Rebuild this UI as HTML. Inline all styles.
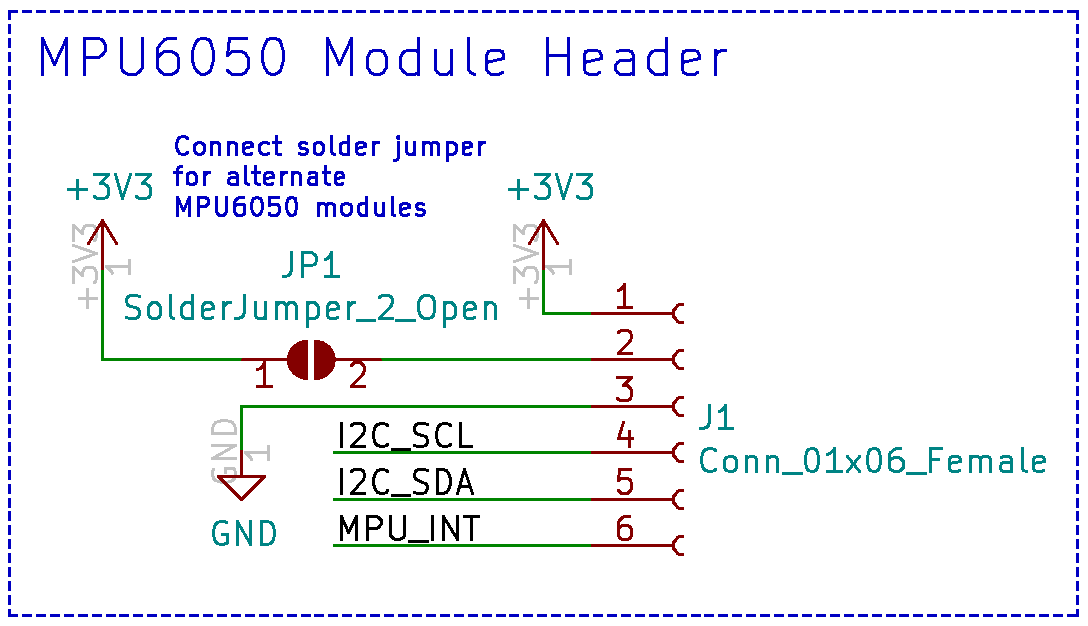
<!DOCTYPE html>
<html><head><meta charset="utf-8"><title>MPU6050 Module Header</title>
<style>html,body{margin:0;padding:0;background:#fff;width:1088px;height:626px;overflow:hidden;font-family:"Liberation Sans",sans-serif}svg{display:block}</style>
</head><body>
<svg width="1088" height="626" viewBox="0 0 1088 626" shape-rendering="crispEdges"><g fill="#0000c2"><rect x="8.00" y="10.00" width="10.00" height="3.00"/><rect x="8.00" y="614.00" width="10.00" height="3.00"/><rect x="22.00" y="10.00" width="10.00" height="3.00"/><rect x="22.00" y="614.00" width="10.00" height="3.00"/><rect x="36.00" y="10.00" width="10.00" height="3.00"/><rect x="36.00" y="614.00" width="10.00" height="3.00"/><rect x="50.00" y="10.00" width="10.00" height="3.00"/><rect x="50.00" y="614.00" width="10.00" height="3.00"/><rect x="64.00" y="10.00" width="10.00" height="3.00"/><rect x="64.00" y="614.00" width="10.00" height="3.00"/><rect x="78.00" y="10.00" width="10.00" height="3.00"/><rect x="78.00" y="614.00" width="10.00" height="3.00"/><rect x="92.00" y="10.00" width="10.00" height="3.00"/><rect x="92.00" y="614.00" width="10.00" height="3.00"/><rect x="106.00" y="10.00" width="10.00" height="3.00"/><rect x="106.00" y="614.00" width="10.00" height="3.00"/><rect x="119.00" y="10.00" width="10.00" height="3.00"/><rect x="119.00" y="614.00" width="10.00" height="3.00"/><rect x="133.00" y="10.00" width="10.00" height="3.00"/><rect x="133.00" y="614.00" width="10.00" height="3.00"/><rect x="147.00" y="10.00" width="10.00" height="3.00"/><rect x="147.00" y="614.00" width="10.00" height="3.00"/><rect x="161.00" y="10.00" width="10.00" height="3.00"/><rect x="161.00" y="614.00" width="10.00" height="3.00"/><rect x="175.00" y="10.00" width="10.00" height="3.00"/><rect x="175.00" y="614.00" width="10.00" height="3.00"/><rect x="189.00" y="10.00" width="10.00" height="3.00"/><rect x="189.00" y="614.00" width="10.00" height="3.00"/><rect x="203.00" y="10.00" width="10.00" height="3.00"/><rect x="203.00" y="614.00" width="10.00" height="3.00"/><rect x="217.00" y="10.00" width="10.00" height="3.00"/><rect x="217.00" y="614.00" width="10.00" height="3.00"/><rect x="231.00" y="10.00" width="10.00" height="3.00"/><rect x="231.00" y="614.00" width="10.00" height="3.00"/><rect x="245.00" y="10.00" width="10.00" height="3.00"/><rect x="245.00" y="614.00" width="10.00" height="3.00"/><rect x="259.00" y="10.00" width="10.00" height="3.00"/><rect x="259.00" y="614.00" width="10.00" height="3.00"/><rect x="273.00" y="10.00" width="10.00" height="3.00"/><rect x="273.00" y="614.00" width="10.00" height="3.00"/><rect x="287.00" y="10.00" width="10.00" height="3.00"/><rect x="287.00" y="614.00" width="10.00" height="3.00"/><rect x="301.00" y="10.00" width="10.00" height="3.00"/><rect x="301.00" y="614.00" width="10.00" height="3.00"/><rect x="314.00" y="10.00" width="10.00" height="3.00"/><rect x="314.00" y="614.00" width="10.00" height="3.00"/><rect x="328.00" y="10.00" width="10.00" height="3.00"/><rect x="328.00" y="614.00" width="10.00" height="3.00"/><rect x="342.00" y="10.00" width="10.00" height="3.00"/><rect x="342.00" y="614.00" width="10.00" height="3.00"/><rect x="356.00" y="10.00" width="10.00" height="3.00"/><rect x="356.00" y="614.00" width="10.00" height="3.00"/><rect x="370.00" y="10.00" width="10.00" height="3.00"/><rect x="370.00" y="614.00" width="10.00" height="3.00"/><rect x="384.00" y="10.00" width="10.00" height="3.00"/><rect x="384.00" y="614.00" width="10.00" height="3.00"/><rect x="398.00" y="10.00" width="10.00" height="3.00"/><rect x="398.00" y="614.00" width="10.00" height="3.00"/><rect x="412.00" y="10.00" width="10.00" height="3.00"/><rect x="412.00" y="614.00" width="10.00" height="3.00"/><rect x="426.00" y="10.00" width="10.00" height="3.00"/><rect x="426.00" y="614.00" width="10.00" height="3.00"/><rect x="440.00" y="10.00" width="10.00" height="3.00"/><rect x="440.00" y="614.00" width="10.00" height="3.00"/><rect x="454.00" y="10.00" width="10.00" height="3.00"/><rect x="454.00" y="614.00" width="10.00" height="3.00"/><rect x="468.00" y="10.00" width="10.00" height="3.00"/><rect x="468.00" y="614.00" width="10.00" height="3.00"/><rect x="482.00" y="10.00" width="10.00" height="3.00"/><rect x="482.00" y="614.00" width="10.00" height="3.00"/><rect x="496.00" y="10.00" width="10.00" height="3.00"/><rect x="496.00" y="614.00" width="10.00" height="3.00"/><rect x="509.00" y="10.00" width="10.00" height="3.00"/><rect x="509.00" y="614.00" width="10.00" height="3.00"/><rect x="523.00" y="10.00" width="10.00" height="3.00"/><rect x="523.00" y="614.00" width="10.00" height="3.00"/><rect x="537.00" y="10.00" width="10.00" height="3.00"/><rect x="537.00" y="614.00" width="10.00" height="3.00"/><rect x="551.00" y="10.00" width="10.00" height="3.00"/><rect x="551.00" y="614.00" width="10.00" height="3.00"/><rect x="565.00" y="10.00" width="10.00" height="3.00"/><rect x="565.00" y="614.00" width="10.00" height="3.00"/><rect x="579.00" y="10.00" width="10.00" height="3.00"/><rect x="579.00" y="614.00" width="10.00" height="3.00"/><rect x="593.00" y="10.00" width="10.00" height="3.00"/><rect x="593.00" y="614.00" width="10.00" height="3.00"/><rect x="607.00" y="10.00" width="10.00" height="3.00"/><rect x="607.00" y="614.00" width="10.00" height="3.00"/><rect x="621.00" y="10.00" width="10.00" height="3.00"/><rect x="621.00" y="614.00" width="10.00" height="3.00"/><rect x="635.00" y="10.00" width="10.00" height="3.00"/><rect x="635.00" y="614.00" width="10.00" height="3.00"/><rect x="649.00" y="10.00" width="10.00" height="3.00"/><rect x="649.00" y="614.00" width="10.00" height="3.00"/><rect x="663.00" y="10.00" width="10.00" height="3.00"/><rect x="663.00" y="614.00" width="10.00" height="3.00"/><rect x="677.00" y="10.00" width="10.00" height="3.00"/><rect x="677.00" y="614.00" width="10.00" height="3.00"/><rect x="691.00" y="10.00" width="10.00" height="3.00"/><rect x="691.00" y="614.00" width="10.00" height="3.00"/><rect x="704.00" y="10.00" width="10.00" height="3.00"/><rect x="704.00" y="614.00" width="10.00" height="3.00"/><rect x="718.00" y="10.00" width="10.00" height="3.00"/><rect x="718.00" y="614.00" width="10.00" height="3.00"/><rect x="732.00" y="10.00" width="10.00" height="3.00"/><rect x="732.00" y="614.00" width="10.00" height="3.00"/><rect x="746.00" y="10.00" width="10.00" height="3.00"/><rect x="746.00" y="614.00" width="10.00" height="3.00"/><rect x="760.00" y="10.00" width="10.00" height="3.00"/><rect x="760.00" y="614.00" width="10.00" height="3.00"/><rect x="774.00" y="10.00" width="10.00" height="3.00"/><rect x="774.00" y="614.00" width="10.00" height="3.00"/><rect x="788.00" y="10.00" width="10.00" height="3.00"/><rect x="788.00" y="614.00" width="10.00" height="3.00"/><rect x="802.00" y="10.00" width="10.00" height="3.00"/><rect x="802.00" y="614.00" width="10.00" height="3.00"/><rect x="816.00" y="10.00" width="10.00" height="3.00"/><rect x="816.00" y="614.00" width="10.00" height="3.00"/><rect x="830.00" y="10.00" width="10.00" height="3.00"/><rect x="830.00" y="614.00" width="10.00" height="3.00"/><rect x="844.00" y="10.00" width="10.00" height="3.00"/><rect x="844.00" y="614.00" width="10.00" height="3.00"/><rect x="858.00" y="10.00" width="10.00" height="3.00"/><rect x="858.00" y="614.00" width="10.00" height="3.00"/><rect x="872.00" y="10.00" width="10.00" height="3.00"/><rect x="872.00" y="614.00" width="10.00" height="3.00"/><rect x="886.00" y="10.00" width="10.00" height="3.00"/><rect x="886.00" y="614.00" width="10.00" height="3.00"/><rect x="899.00" y="10.00" width="10.00" height="3.00"/><rect x="899.00" y="614.00" width="10.00" height="3.00"/><rect x="913.00" y="10.00" width="10.00" height="3.00"/><rect x="913.00" y="614.00" width="10.00" height="3.00"/><rect x="927.00" y="10.00" width="10.00" height="3.00"/><rect x="927.00" y="614.00" width="10.00" height="3.00"/><rect x="941.00" y="10.00" width="10.00" height="3.00"/><rect x="941.00" y="614.00" width="10.00" height="3.00"/><rect x="955.00" y="10.00" width="10.00" height="3.00"/><rect x="955.00" y="614.00" width="10.00" height="3.00"/><rect x="969.00" y="10.00" width="10.00" height="3.00"/><rect x="969.00" y="614.00" width="10.00" height="3.00"/><rect x="983.00" y="10.00" width="10.00" height="3.00"/><rect x="983.00" y="614.00" width="10.00" height="3.00"/><rect x="997.00" y="10.00" width="10.00" height="3.00"/><rect x="997.00" y="614.00" width="10.00" height="3.00"/><rect x="1011.00" y="10.00" width="10.00" height="3.00"/><rect x="1011.00" y="614.00" width="10.00" height="3.00"/><rect x="1025.00" y="10.00" width="10.00" height="3.00"/><rect x="1025.00" y="614.00" width="10.00" height="3.00"/><rect x="1039.00" y="10.00" width="10.00" height="3.00"/><rect x="1039.00" y="614.00" width="10.00" height="3.00"/><rect x="1053.00" y="10.00" width="10.00" height="3.00"/><rect x="1053.00" y="614.00" width="10.00" height="3.00"/><rect x="1067.00" y="10.00" width="10.00" height="3.00"/><rect x="1067.00" y="614.00" width="10.00" height="3.00"/><rect x="8.00" y="10.00" width="3.00" height="10.00"/><rect x="1076.00" y="10.00" width="3.00" height="10.00"/><rect x="8.00" y="24.00" width="3.00" height="10.00"/><rect x="1076.00" y="24.00" width="3.00" height="10.00"/><rect x="8.00" y="38.00" width="3.00" height="10.00"/><rect x="1076.00" y="38.00" width="3.00" height="10.00"/><rect x="8.00" y="52.00" width="3.00" height="10.00"/><rect x="1076.00" y="52.00" width="3.00" height="10.00"/><rect x="8.00" y="66.00" width="3.00" height="10.00"/><rect x="1076.00" y="66.00" width="3.00" height="10.00"/><rect x="8.00" y="80.00" width="3.00" height="10.00"/><rect x="1076.00" y="80.00" width="3.00" height="10.00"/><rect x="8.00" y="94.00" width="3.00" height="10.00"/><rect x="1076.00" y="94.00" width="3.00" height="10.00"/><rect x="8.00" y="108.00" width="3.00" height="10.00"/><rect x="1076.00" y="108.00" width="3.00" height="10.00"/><rect x="8.00" y="121.00" width="3.00" height="10.00"/><rect x="1076.00" y="121.00" width="3.00" height="10.00"/><rect x="8.00" y="135.00" width="3.00" height="10.00"/><rect x="1076.00" y="135.00" width="3.00" height="10.00"/><rect x="8.00" y="149.00" width="3.00" height="10.00"/><rect x="1076.00" y="149.00" width="3.00" height="10.00"/><rect x="8.00" y="163.00" width="3.00" height="10.00"/><rect x="1076.00" y="163.00" width="3.00" height="10.00"/><rect x="8.00" y="177.00" width="3.00" height="10.00"/><rect x="1076.00" y="177.00" width="3.00" height="10.00"/><rect x="8.00" y="191.00" width="3.00" height="10.00"/><rect x="1076.00" y="191.00" width="3.00" height="10.00"/><rect x="8.00" y="205.00" width="3.00" height="10.00"/><rect x="1076.00" y="205.00" width="3.00" height="10.00"/><rect x="8.00" y="219.00" width="3.00" height="10.00"/><rect x="1076.00" y="219.00" width="3.00" height="10.00"/><rect x="8.00" y="233.00" width="3.00" height="10.00"/><rect x="1076.00" y="233.00" width="3.00" height="10.00"/><rect x="8.00" y="247.00" width="3.00" height="10.00"/><rect x="1076.00" y="247.00" width="3.00" height="10.00"/><rect x="8.00" y="261.00" width="3.00" height="10.00"/><rect x="1076.00" y="261.00" width="3.00" height="10.00"/><rect x="8.00" y="275.00" width="3.00" height="10.00"/><rect x="1076.00" y="275.00" width="3.00" height="10.00"/><rect x="8.00" y="289.00" width="3.00" height="10.00"/><rect x="1076.00" y="289.00" width="3.00" height="10.00"/><rect x="8.00" y="303.00" width="3.00" height="10.00"/><rect x="1076.00" y="303.00" width="3.00" height="10.00"/><rect x="8.00" y="316.00" width="3.00" height="10.00"/><rect x="1076.00" y="316.00" width="3.00" height="10.00"/><rect x="8.00" y="330.00" width="3.00" height="10.00"/><rect x="1076.00" y="330.00" width="3.00" height="10.00"/><rect x="8.00" y="344.00" width="3.00" height="10.00"/><rect x="1076.00" y="344.00" width="3.00" height="10.00"/><rect x="8.00" y="358.00" width="3.00" height="10.00"/><rect x="1076.00" y="358.00" width="3.00" height="10.00"/><rect x="8.00" y="372.00" width="3.00" height="10.00"/><rect x="1076.00" y="372.00" width="3.00" height="10.00"/><rect x="8.00" y="386.00" width="3.00" height="10.00"/><rect x="1076.00" y="386.00" width="3.00" height="10.00"/><rect x="8.00" y="400.00" width="3.00" height="10.00"/><rect x="1076.00" y="400.00" width="3.00" height="10.00"/><rect x="8.00" y="414.00" width="3.00" height="10.00"/><rect x="1076.00" y="414.00" width="3.00" height="10.00"/><rect x="8.00" y="428.00" width="3.00" height="10.00"/><rect x="1076.00" y="428.00" width="3.00" height="10.00"/><rect x="8.00" y="442.00" width="3.00" height="10.00"/><rect x="1076.00" y="442.00" width="3.00" height="10.00"/><rect x="8.00" y="456.00" width="3.00" height="10.00"/><rect x="1076.00" y="456.00" width="3.00" height="10.00"/><rect x="8.00" y="470.00" width="3.00" height="10.00"/><rect x="1076.00" y="470.00" width="3.00" height="10.00"/><rect x="8.00" y="484.00" width="3.00" height="10.00"/><rect x="1076.00" y="484.00" width="3.00" height="10.00"/><rect x="8.00" y="498.00" width="3.00" height="10.00"/><rect x="1076.00" y="498.00" width="3.00" height="10.00"/><rect x="8.00" y="511.00" width="3.00" height="10.00"/><rect x="1076.00" y="511.00" width="3.00" height="10.00"/><rect x="8.00" y="525.00" width="3.00" height="10.00"/><rect x="1076.00" y="525.00" width="3.00" height="10.00"/><rect x="8.00" y="539.00" width="3.00" height="10.00"/><rect x="1076.00" y="539.00" width="3.00" height="10.00"/><rect x="8.00" y="553.00" width="3.00" height="10.00"/><rect x="1076.00" y="553.00" width="3.00" height="10.00"/><rect x="8.00" y="567.00" width="3.00" height="10.00"/><rect x="1076.00" y="567.00" width="3.00" height="10.00"/><rect x="8.00" y="581.00" width="3.00" height="10.00"/><rect x="1076.00" y="581.00" width="3.00" height="10.00"/><rect x="8.00" y="595.00" width="3.00" height="10.00"/><rect x="1076.00" y="595.00" width="3.00" height="10.00"/><rect x="8.00" y="609.00" width="3.00" height="8.00"/><rect x="1076.00" y="609.00" width="3.00" height="8.00"/></g><g fill="none" stroke-linecap="round" stroke-linejoin="round" shape-rendering="crispEdges"><path d="M87.50,307.50L87.50,289.50M96.50,298.50L79.50,298.50M73.50,282.50L73.50,267.50M73.50,267.50L82.50,275.50M82.50,275.50L82.50,272.50M82.50,272.50L83.50,270.50M83.50,270.50L84.50,268.50M84.50,268.50L86.50,267.50M86.50,267.50L92.50,267.50M92.50,267.50L94.50,268.50M94.50,268.50L95.50,270.50M95.50,270.50L96.50,272.50M96.50,272.50L96.50,278.50M96.50,278.50L95.50,281.50M95.50,281.50L94.50,282.50M73.50,261.50L96.50,253.50M96.50,253.50L73.50,245.50M73.50,240.50L73.50,225.50M73.50,225.50L82.50,233.50M82.50,233.50L82.50,230.50M82.50,230.50L83.50,228.50M83.50,228.50L84.50,226.50M84.50,226.50L86.50,225.50M86.50,225.50L92.50,225.50M92.50,225.50L94.50,226.50M94.50,226.50L95.50,228.50M95.50,228.50L96.50,230.50M96.50,230.50L96.50,236.50M96.50,236.50L95.50,239.50M95.50,239.50L94.50,240.50" stroke="#c2c2c2" stroke-width="3.00"/><path d="M129.50,260.50L129.50,273.50M129.50,266.50L106.50,266.50M106.50,266.50L109.50,269.50M109.50,269.50L111.50,271.50M111.50,271.50L112.50,273.50" stroke="#c2c2c2" stroke-width="3.00"/><path d="M528.50,307.50L528.50,289.50M537.50,298.50L520.50,298.50M514.50,282.50L514.50,267.50M514.50,267.50L523.50,275.50M523.50,275.50L523.50,272.50M523.50,272.50L524.50,270.50M524.50,270.50L525.50,268.50M525.50,268.50L527.50,267.50M527.50,267.50L533.50,267.50M533.50,267.50L535.50,268.50M535.50,268.50L536.50,270.50M536.50,270.50L537.50,272.50M537.50,272.50L537.50,278.50M537.50,278.50L536.50,281.50M536.50,281.50L535.50,282.50M514.50,261.50L537.50,253.50M537.50,253.50L514.50,245.50M514.50,240.50L514.50,225.50M514.50,225.50L523.50,233.50M523.50,233.50L523.50,230.50M523.50,230.50L524.50,228.50M524.50,228.50L525.50,226.50M525.50,226.50L527.50,225.50M527.50,225.50L533.50,225.50M533.50,225.50L535.50,226.50M535.50,226.50L536.50,228.50M536.50,228.50L537.50,230.50M537.50,230.50L537.50,236.50M537.50,236.50L536.50,239.50M536.50,239.50L535.50,240.50" stroke="#c2c2c2" stroke-width="3.00"/><path d="M570.50,260.50L570.50,273.50M570.50,266.50L546.50,266.50M546.50,266.50L550.50,269.50M550.50,269.50L552.50,271.50M552.50,271.50L553.50,273.50" stroke="#c2c2c2" stroke-width="3.00"/><path d="M213.50,469.50L212.50,471.50M212.50,471.50L212.50,474.50M212.50,474.50L213.50,478.50M213.50,478.50L215.50,480.50M215.50,480.50L218.50,481.50M218.50,481.50L222.50,482.50M222.50,482.50L225.50,482.50M225.50,482.50L230.50,481.50M230.50,481.50L232.50,480.50M232.50,480.50L234.50,478.50M234.50,478.50L235.50,474.50M235.50,474.50L235.50,472.50M235.50,472.50L234.50,469.50M234.50,469.50L233.50,468.50M233.50,468.50L225.50,468.50M225.50,468.50L225.50,472.50M235.50,458.50L212.50,458.50M212.50,458.50L235.50,445.50M235.50,445.50L212.50,445.50M235.50,433.50L212.50,433.50M212.50,433.50L212.50,428.50M212.50,428.50L213.50,425.50M213.50,425.50L215.50,422.50M215.50,422.50L218.50,421.50M218.50,421.50L222.50,420.50M222.50,420.50L225.50,420.50M225.50,420.50L230.50,421.50M230.50,421.50L232.50,422.50M232.50,422.50L234.50,425.50M234.50,425.50L235.50,428.50M235.50,428.50L235.50,433.50" stroke="#c2c2c2" stroke-width="3.00"/><path d="M268.50,446.50L268.50,459.50M268.50,452.50L245.50,452.50M245.50,452.50L248.50,455.50M248.50,455.50L250.50,457.50M250.50,457.50L251.50,459.50" stroke="#c2c2c2" stroke-width="3.00"/><path d="M42.50,74.50L42.50,38.50M42.50,38.50L54.50,64.50M54.50,64.50L66.50,38.50M66.50,38.50L66.50,74.50M84.50,74.50L84.50,38.50M84.50,38.50L98.50,38.50M98.50,38.50L101.50,39.50M101.50,39.50L103.50,41.50M103.50,41.50L105.50,45.50M105.50,45.50L105.50,50.50M105.50,50.50L103.50,53.50M103.50,53.50L101.50,55.50M101.50,55.50L98.50,57.50M98.50,57.50L84.50,57.50M121.50,38.50L121.50,67.50M121.50,67.50L122.50,70.50M122.50,70.50L124.50,72.50M124.50,72.50L128.50,74.50M128.50,74.50L135.50,74.50M135.50,74.50L138.50,72.50M138.50,72.50L140.50,70.50M140.50,70.50L142.50,67.50M142.50,67.50L142.50,38.50M175.50,38.50L168.50,38.50M168.50,38.50L164.50,39.50M164.50,39.50L159.50,45.50M159.50,45.50L157.50,48.50M157.50,48.50L157.50,67.50M157.50,67.50L159.50,70.50M159.50,70.50L161.50,72.50M161.50,72.50L164.50,74.50M164.50,74.50L171.50,74.50M171.50,74.50L175.50,72.50M175.50,72.50L177.50,70.50M177.50,70.50L178.50,67.50M178.50,67.50L178.50,58.50M178.50,58.50L177.50,55.50M177.50,55.50L175.50,53.50M175.50,53.50L171.50,51.50M171.50,51.50L164.50,51.50M164.50,51.50L161.50,53.50M161.50,53.50L159.50,55.50M159.50,55.50L157.50,58.50M201.50,38.50L204.50,38.50M204.50,38.50L208.50,39.50M208.50,39.50L210.50,41.50M210.50,41.50L211.50,45.50M211.50,45.50L213.50,51.50M213.50,51.50L213.50,60.50M213.50,60.50L211.50,67.50M211.50,67.50L210.50,70.50M210.50,70.50L208.50,72.50M208.50,72.50L204.50,74.50M204.50,74.50L201.50,74.50M201.50,74.50L198.50,72.50M198.50,72.50L196.50,70.50M196.50,70.50L194.50,67.50M194.50,67.50L192.50,60.50M192.50,60.50L192.50,51.50M192.50,51.50L194.50,45.50M194.50,45.50L196.50,41.50M196.50,41.50L198.50,39.50M198.50,39.50L201.50,38.50M246.50,38.50L229.50,38.50M229.50,38.50L227.50,55.50M227.50,55.50L229.50,53.50M229.50,53.50L232.50,51.50M232.50,51.50L241.50,51.50M241.50,51.50L245.50,53.50M245.50,53.50L246.50,55.50M246.50,55.50L248.50,58.50M248.50,58.50L248.50,67.50M248.50,67.50L246.50,70.50M246.50,70.50L245.50,72.50M245.50,72.50L241.50,74.50M241.50,74.50L232.50,74.50M232.50,74.50L229.50,72.50M229.50,72.50L227.50,70.50M271.50,38.50L274.50,38.50M274.50,38.50L278.50,39.50M278.50,39.50L280.50,41.50M280.50,41.50L281.50,45.50M281.50,45.50L283.50,51.50M283.50,51.50L283.50,60.50M283.50,60.50L281.50,67.50M281.50,67.50L280.50,70.50M280.50,70.50L278.50,72.50M278.50,72.50L274.50,74.50M274.50,74.50L271.50,74.50M271.50,74.50L267.50,72.50M267.50,72.50L266.50,70.50M266.50,70.50L264.50,67.50M264.50,67.50L262.50,60.50M262.50,60.50L262.50,51.50M262.50,51.50L264.50,45.50M264.50,45.50L266.50,41.50M266.50,41.50L267.50,39.50M267.50,39.50L271.50,38.50M327.50,74.50L327.50,38.50M327.50,38.50L339.50,64.50M339.50,64.50L351.50,38.50M351.50,38.50L351.50,74.50M374.50,74.50L370.50,72.50M370.50,72.50L369.50,70.50M369.50,70.50L367.50,67.50M367.50,67.50L367.50,57.50M367.50,57.50L369.50,53.50M369.50,53.50L370.50,51.50M370.50,51.50L374.50,50.50M374.50,50.50L379.50,50.50M379.50,50.50L383.50,51.50M383.50,51.50L384.50,53.50M384.50,53.50L386.50,57.50M386.50,57.50L386.50,67.50M386.50,67.50L384.50,70.50M384.50,70.50L383.50,72.50M383.50,72.50L379.50,74.50M379.50,74.50L374.50,74.50M418.50,74.50L418.50,38.50M418.50,72.50L414.50,74.50M414.50,74.50L407.50,74.50M407.50,74.50L404.50,72.50M404.50,72.50L402.50,70.50M402.50,70.50L400.50,67.50M400.50,67.50L400.50,57.50M400.50,57.50L402.50,53.50M402.50,53.50L404.50,51.50M404.50,51.50L407.50,50.50M407.50,50.50L414.50,50.50M414.50,50.50L418.50,51.50M451.50,50.50L451.50,74.50M435.50,50.50L435.50,69.50M435.50,69.50L437.50,72.50M437.50,72.50L440.50,74.50M440.50,74.50L446.50,74.50M446.50,74.50L449.50,72.50M449.50,72.50L451.50,70.50M468.50,38.50L468.50,69.50M468.50,69.50L470.50,72.50M470.50,72.50L474.50,74.50M502.50,72.50L498.50,74.50M498.50,74.50L491.50,74.50M491.50,74.50L488.50,72.50M488.50,72.50L486.50,69.50M486.50,69.50L486.50,55.50M486.50,55.50L488.50,51.50M488.50,51.50L491.50,50.50M491.50,50.50L498.50,50.50M498.50,50.50L502.50,51.50M502.50,51.50L503.50,55.50M503.50,55.50L503.50,58.50M503.50,58.50L486.50,62.50M547.50,74.50L547.50,38.50M547.50,55.50L568.50,55.50M568.50,38.50L568.50,74.50M599.50,72.50L596.50,74.50M596.50,74.50L589.50,74.50M589.50,74.50L585.50,72.50M585.50,72.50L584.50,69.50M584.50,69.50L584.50,55.50M584.50,55.50L585.50,51.50M585.50,51.50L589.50,50.50M589.50,50.50L596.50,50.50M596.50,50.50L599.50,51.50M599.50,51.50L601.50,55.50M601.50,55.50L601.50,58.50M601.50,58.50L584.50,62.50M633.50,74.50L633.50,55.50M633.50,55.50L631.50,51.50M631.50,51.50L627.50,50.50M627.50,50.50L620.50,50.50M620.50,50.50L617.50,51.50M633.50,72.50L629.50,74.50M629.50,74.50L620.50,74.50M620.50,74.50L617.50,72.50M617.50,72.50L615.50,69.50M615.50,69.50L615.50,65.50M615.50,65.50L617.50,62.50M617.50,62.50L620.50,60.50M620.50,60.50L629.50,60.50M629.50,60.50L633.50,58.50M666.50,74.50L666.50,38.50M666.50,72.50L662.50,74.50M662.50,74.50L655.50,74.50M655.50,74.50L652.50,72.50M652.50,72.50L650.50,70.50M650.50,70.50L648.50,67.50M648.50,67.50L648.50,57.50M648.50,57.50L650.50,53.50M650.50,53.50L652.50,51.50M652.50,51.50L655.50,50.50M655.50,50.50L662.50,50.50M662.50,50.50L666.50,51.50M697.50,72.50L694.50,74.50M694.50,74.50L687.50,74.50M687.50,74.50L683.50,72.50M683.50,72.50L682.50,69.50M682.50,69.50L682.50,55.50M682.50,55.50L683.50,51.50M683.50,51.50L687.50,50.50M687.50,50.50L694.50,50.50M694.50,50.50L697.50,51.50M697.50,51.50L699.50,55.50M699.50,55.50L699.50,58.50M699.50,58.50L682.50,62.50M715.50,74.50L715.50,50.50M715.50,57.50L716.50,53.50M716.50,53.50L718.50,51.50M718.50,51.50L722.50,50.50M722.50,50.50L725.50,50.50" stroke="#0000c2" stroke-width="3.00"/><path d="M187.50,152.50L186.50,153.50M186.50,153.50L184.50,154.50M184.50,154.50L182.50,154.50M182.50,154.50L179.50,153.50M179.50,153.50L178.50,151.50M178.50,151.50L177.50,150.50M177.50,150.50L176.50,146.50M176.50,146.50L176.50,144.50M176.50,144.50L177.50,140.50M177.50,140.50L178.50,138.50M178.50,138.50L179.50,137.50M179.50,137.50L182.50,136.50M182.50,136.50L184.50,136.50M184.50,136.50L186.50,137.50M186.50,137.50L187.50,138.50M198.50,154.50L196.50,153.50M196.50,153.50L195.50,152.50M195.50,152.50L194.50,150.50M194.50,150.50L194.50,145.50M194.50,145.50L195.50,144.50M195.50,144.50L196.50,143.50M196.50,143.50L198.50,142.50M198.50,142.50L200.50,142.50M200.50,142.50L202.50,143.50M202.50,143.50L203.50,144.50M203.50,144.50L204.50,145.50M204.50,145.50L204.50,150.50M204.50,150.50L203.50,152.50M203.50,152.50L202.50,153.50M202.50,153.50L200.50,154.50M200.50,154.50L198.50,154.50M211.50,142.50L211.50,154.50M211.50,144.50L212.50,143.50M212.50,143.50L214.50,142.50M214.50,142.50L217.50,142.50M217.50,142.50L218.50,143.50M218.50,143.50L219.50,144.50M219.50,144.50L219.50,154.50M228.50,142.50L228.50,154.50M228.50,144.50L229.50,143.50M229.50,143.50L230.50,142.50M230.50,142.50L233.50,142.50M233.50,142.50L235.50,143.50M235.50,143.50L236.50,144.50M236.50,144.50L236.50,154.50M251.50,153.50L250.50,154.50M250.50,154.50L246.50,154.50M246.50,154.50L244.50,153.50M244.50,153.50L243.50,151.50M243.50,151.50L243.50,144.50M243.50,144.50L244.50,143.50M244.50,143.50L246.50,142.50M246.50,142.50L250.50,142.50M250.50,142.50L251.50,143.50M251.50,143.50L252.50,144.50M252.50,144.50L252.50,146.50M252.50,146.50L243.50,148.50M268.50,153.50L266.50,154.50M266.50,154.50L263.50,154.50M263.50,154.50L261.50,153.50M261.50,153.50L260.50,152.50M260.50,152.50L259.50,150.50M259.50,150.50L259.50,145.50M259.50,145.50L260.50,144.50M260.50,144.50L261.50,143.50M261.50,143.50L263.50,142.50M263.50,142.50L266.50,142.50M266.50,142.50L268.50,143.50M273.50,142.50L280.50,142.50M276.50,136.50L276.50,151.50M276.50,151.50L276.50,153.50M276.50,153.50L278.50,154.50M278.50,154.50L280.50,154.50M299.50,153.50L301.50,154.50M301.50,154.50L304.50,154.50M304.50,154.50L306.50,153.50M306.50,153.50L307.50,151.50M307.50,151.50L307.50,150.50M307.50,150.50L306.50,149.50M306.50,149.50L304.50,148.50M304.50,148.50L301.50,148.50M301.50,148.50L300.50,147.50M300.50,147.50L299.50,145.50M299.50,145.50L299.50,144.50M299.50,144.50L300.50,143.50M300.50,143.50L301.50,142.50M301.50,142.50L304.50,142.50M304.50,142.50L306.50,143.50M317.50,154.50L315.50,153.50M315.50,153.50L314.50,152.50M314.50,152.50L314.50,150.50M314.50,150.50L314.50,145.50M314.50,145.50L314.50,144.50M314.50,144.50L315.50,143.50M315.50,143.50L317.50,142.50M317.50,142.50L320.50,142.50M320.50,142.50L321.50,143.50M321.50,143.50L322.50,144.50M322.50,144.50L323.50,145.50M323.50,145.50L323.50,150.50M323.50,150.50L322.50,152.50M322.50,152.50L321.50,153.50M321.50,153.50L320.50,154.50M320.50,154.50L317.50,154.50M331.50,136.50L331.50,151.50M331.50,151.50L332.50,153.50M332.50,153.50L334.50,154.50M348.50,154.50L348.50,136.50M348.50,153.50L347.50,154.50M347.50,154.50L343.50,154.50M343.50,154.50L341.50,153.50M341.50,153.50L340.50,152.50M340.50,152.50L340.50,150.50M340.50,150.50L340.50,145.50M340.50,145.50L340.50,144.50M340.50,144.50L341.50,143.50M341.50,143.50L343.50,142.50M343.50,142.50L347.50,142.50M347.50,142.50L348.50,143.50M364.50,153.50L362.50,154.50M362.50,154.50L359.50,154.50M359.50,154.50L357.50,153.50M357.50,153.50L356.50,151.50M356.50,151.50L356.50,144.50M356.50,144.50L357.50,143.50M357.50,143.50L359.50,142.50M359.50,142.50L362.50,142.50M362.50,142.50L364.50,143.50M364.50,143.50L365.50,144.50M365.50,144.50L365.50,146.50M365.50,146.50L356.50,148.50M373.50,154.50L373.50,142.50M373.50,145.50L373.50,144.50M373.50,144.50L374.50,143.50M374.50,143.50L376.50,142.50M376.50,142.50L378.50,142.50M398.50,142.50L398.50,157.50M398.50,157.50L397.50,159.50M397.50,159.50L395.50,160.50M395.50,160.50L394.50,160.50M398.50,136.50L397.50,137.50M397.50,137.50L398.50,138.50M398.50,138.50L398.50,137.50M398.50,137.50L398.50,136.50M398.50,136.50L398.50,138.50M414.50,142.50L414.50,154.50M406.50,142.50L406.50,151.50M406.50,151.50L407.50,153.50M407.50,153.50L409.50,154.50M409.50,154.50L411.50,154.50M411.50,154.50L413.50,153.50M413.50,153.50L414.50,152.50M423.50,154.50L423.50,142.50M423.50,144.50L424.50,143.50M424.50,143.50L425.50,142.50M425.50,142.50L428.50,142.50M428.50,142.50L430.50,143.50M430.50,143.50L431.50,144.50M431.50,144.50L431.50,154.50M431.50,144.50L431.50,143.50M431.50,143.50L433.50,142.50M433.50,142.50L436.50,142.50M436.50,142.50L437.50,143.50M437.50,143.50L438.50,144.50M438.50,144.50L438.50,154.50M447.50,142.50L447.50,160.50M447.50,143.50L449.50,142.50M449.50,142.50L452.50,142.50M452.50,142.50L454.50,143.50M454.50,143.50L455.50,144.50M455.50,144.50L456.50,145.50M456.50,145.50L456.50,150.50M456.50,150.50L455.50,152.50M455.50,152.50L454.50,153.50M454.50,153.50L452.50,154.50M452.50,154.50L449.50,154.50M449.50,154.50L447.50,153.50M470.50,153.50L469.50,154.50M469.50,154.50L465.50,154.50M465.50,154.50L463.50,153.50M463.50,153.50L463.50,151.50M463.50,151.50L463.50,144.50M463.50,144.50L463.50,143.50M463.50,143.50L465.50,142.50M465.50,142.50L469.50,142.50M469.50,142.50L470.50,143.50M470.50,143.50L471.50,144.50M471.50,144.50L471.50,146.50M471.50,146.50L463.50,148.50M479.50,154.50L479.50,142.50M479.50,145.50L480.50,144.50M480.50,144.50L481.50,143.50M481.50,143.50L482.50,142.50M482.50,142.50L484.50,142.50" stroke="#0000c2" stroke-width="3.00"/><path d="M174.50,172.50L181.50,172.50M177.50,184.50L177.50,169.50M177.50,169.50L178.50,167.50M178.50,167.50L180.50,166.50M180.50,166.50L181.50,166.50M190.50,184.50L188.50,183.50M188.50,183.50L187.50,183.50M187.50,183.50L187.50,181.50M187.50,181.50L187.50,176.50M187.50,176.50L187.50,174.50M187.50,174.50L188.50,173.50M188.50,173.50L190.50,172.50M190.50,172.50L193.50,172.50M193.50,172.50L194.50,173.50M194.50,173.50L195.50,174.50M195.50,174.50L196.50,176.50M196.50,176.50L196.50,181.50M196.50,181.50L195.50,183.50M195.50,183.50L194.50,183.50M194.50,183.50L193.50,184.50M193.50,184.50L190.50,184.50M204.50,184.50L204.50,172.50M204.50,176.50L205.50,174.50M205.50,174.50L206.50,173.50M206.50,173.50L207.50,172.50M207.50,172.50L209.50,172.50M237.50,184.50L237.50,175.50M237.50,175.50L236.50,173.50M236.50,173.50L234.50,172.50M234.50,172.50L231.50,172.50M231.50,172.50L229.50,173.50M237.50,183.50L235.50,184.50M235.50,184.50L231.50,184.50M231.50,184.50L229.50,183.50M229.50,183.50L228.50,182.50M228.50,182.50L228.50,180.50M228.50,180.50L229.50,178.50M229.50,178.50L231.50,177.50M231.50,177.50L235.50,177.50M235.50,177.50L237.50,177.50M245.50,166.50L245.50,182.50M245.50,182.50L246.50,183.50M246.50,183.50L248.50,184.50M252.50,172.50L259.50,172.50M255.50,166.50L255.50,182.50M255.50,182.50L256.50,183.50M256.50,183.50L258.50,184.50M258.50,184.50L259.50,184.50M272.50,183.50L271.50,184.50M271.50,184.50L267.50,184.50M267.50,184.50L265.50,183.50M265.50,183.50L264.50,182.50M264.50,182.50L264.50,175.50M264.50,175.50L265.50,173.50M265.50,173.50L267.50,172.50M267.50,172.50L271.50,172.50M271.50,172.50L272.50,173.50M272.50,173.50L273.50,175.50M273.50,175.50L273.50,177.50M273.50,177.50L264.50,178.50M281.50,184.50L281.50,172.50M281.50,176.50L282.50,174.50M282.50,174.50L283.50,173.50M283.50,173.50L284.50,172.50M284.50,172.50L286.50,172.50M292.50,172.50L292.50,184.50M292.50,174.50L293.50,173.50M293.50,173.50L295.50,172.50M295.50,172.50L297.50,172.50M297.50,172.50L299.50,173.50M299.50,173.50L300.50,175.50M300.50,175.50L300.50,184.50M316.50,184.50L316.50,175.50M316.50,175.50L316.50,173.50M316.50,173.50L314.50,172.50M314.50,172.50L310.50,172.50M310.50,172.50L309.50,173.50M316.50,183.50L315.50,184.50M315.50,184.50L310.50,184.50M310.50,184.50L309.50,183.50M309.50,183.50L308.50,182.50M308.50,182.50L308.50,180.50M308.50,180.50L309.50,178.50M309.50,178.50L310.50,177.50M310.50,177.50L315.50,177.50M315.50,177.50L316.50,177.50M323.50,172.50L329.50,172.50M325.50,166.50L325.50,182.50M325.50,182.50L326.50,183.50M326.50,183.50L328.50,184.50M328.50,184.50L329.50,184.50M342.50,183.50L341.50,184.50M341.50,184.50L337.50,184.50M337.50,184.50L336.50,183.50M336.50,183.50L335.50,182.50M335.50,182.50L335.50,175.50M335.50,175.50L336.50,173.50M336.50,173.50L337.50,172.50M337.50,172.50L341.50,172.50M341.50,172.50L342.50,173.50M342.50,173.50L343.50,175.50M343.50,175.50L343.50,177.50M343.50,177.50L335.50,178.50" stroke="#0000c2" stroke-width="3.00"/><path d="M177.50,215.50L177.50,197.50M177.50,197.50L183.50,210.50M183.50,210.50L189.50,197.50M189.50,197.50L189.50,215.50M198.50,215.50L198.50,197.50M198.50,197.50L205.50,197.50M205.50,197.50L206.50,198.50M206.50,198.50L207.50,198.50M207.50,198.50L208.50,200.50M208.50,200.50L208.50,203.50M208.50,203.50L207.50,204.50M207.50,204.50L206.50,205.50M206.50,205.50L205.50,206.50M205.50,206.50L198.50,206.50M216.50,197.50L216.50,211.50M216.50,211.50L217.50,213.50M217.50,213.50L218.50,214.50M218.50,214.50L219.50,215.50M219.50,215.50L223.50,215.50M223.50,215.50L224.50,214.50M224.50,214.50L225.50,213.50M225.50,213.50L226.50,211.50M226.50,211.50L226.50,197.50M243.50,197.50L239.50,197.50M239.50,197.50L237.50,198.50M237.50,198.50L235.50,200.50M235.50,200.50L234.50,202.50M234.50,202.50L234.50,211.50M234.50,211.50L235.50,213.50M235.50,213.50L236.50,214.50M236.50,214.50L237.50,215.50M237.50,215.50L241.50,215.50M241.50,215.50L243.50,214.50M243.50,214.50L244.50,213.50M244.50,213.50L244.50,211.50M244.50,211.50L244.50,207.50M244.50,207.50L244.50,205.50M244.50,205.50L243.50,204.50M243.50,204.50L241.50,204.50M241.50,204.50L237.50,204.50M237.50,204.50L236.50,204.50M236.50,204.50L235.50,205.50M235.50,205.50L234.50,207.50M256.50,197.50L257.50,197.50M257.50,197.50L259.50,198.50M259.50,198.50L260.50,198.50M260.50,198.50L261.50,200.50M261.50,200.50L262.50,204.50M262.50,204.50L262.50,208.50M262.50,208.50L261.50,211.50M261.50,211.50L260.50,213.50M260.50,213.50L259.50,214.50M259.50,214.50L257.50,215.50M257.50,215.50L256.50,215.50M256.50,215.50L254.50,214.50M254.50,214.50L253.50,213.50M253.50,213.50L252.50,211.50M252.50,211.50L251.50,208.50M251.50,208.50L251.50,204.50M251.50,204.50L252.50,200.50M252.50,200.50L253.50,198.50M253.50,198.50L254.50,198.50M254.50,198.50L256.50,197.50M278.50,197.50L269.50,197.50M269.50,197.50L269.50,205.50M269.50,205.50L269.50,204.50M269.50,204.50L271.50,204.50M271.50,204.50L276.50,204.50M276.50,204.50L277.50,204.50M277.50,204.50L278.50,205.50M278.50,205.50L279.50,207.50M279.50,207.50L279.50,211.50M279.50,211.50L278.50,213.50M278.50,213.50L277.50,214.50M277.50,214.50L276.50,215.50M276.50,215.50L271.50,215.50M271.50,215.50L269.50,214.50M269.50,214.50L269.50,213.50M290.50,197.50L292.50,197.50M292.50,197.50L294.50,198.50M294.50,198.50L295.50,198.50M295.50,198.50L295.50,200.50M295.50,200.50L296.50,204.50M296.50,204.50L296.50,208.50M296.50,208.50L295.50,211.50M295.50,211.50L295.50,213.50M295.50,213.50L294.50,214.50M294.50,214.50L292.50,215.50M292.50,215.50L290.50,215.50M290.50,215.50L289.50,214.50M289.50,214.50L288.50,213.50M288.50,213.50L287.50,211.50M287.50,211.50L286.50,208.50M286.50,208.50L286.50,204.50M286.50,204.50L287.50,200.50M287.50,200.50L288.50,198.50M288.50,198.50L289.50,198.50M289.50,198.50L290.50,197.50M318.50,215.50L318.50,203.50M318.50,204.50L319.50,204.50M319.50,204.50L321.50,203.50M321.50,203.50L323.50,203.50M323.50,203.50L325.50,204.50M325.50,204.50L326.50,205.50M326.50,205.50L326.50,215.50M326.50,205.50L327.50,204.50M327.50,204.50L328.50,203.50M328.50,203.50L331.50,203.50M331.50,203.50L333.50,204.50M333.50,204.50L334.50,205.50M334.50,205.50L334.50,215.50M345.50,215.50L343.50,214.50M343.50,214.50L342.50,213.50M342.50,213.50L341.50,211.50M341.50,211.50L341.50,206.50M341.50,206.50L342.50,204.50M342.50,204.50L343.50,204.50M343.50,204.50L345.50,203.50M345.50,203.50L347.50,203.50M347.50,203.50L349.50,204.50M349.50,204.50L350.50,204.50M350.50,204.50L351.50,206.50M351.50,206.50L351.50,211.50M351.50,211.50L350.50,213.50M350.50,213.50L349.50,214.50M349.50,214.50L347.50,215.50M347.50,215.50L345.50,215.50M366.50,215.50L366.50,197.50M366.50,214.50L365.50,215.50M365.50,215.50L361.50,215.50M361.50,215.50L360.50,214.50M360.50,214.50L359.50,213.50M359.50,213.50L358.50,211.50M358.50,211.50L358.50,206.50M358.50,206.50L359.50,204.50M359.50,204.50L360.50,204.50M360.50,204.50L361.50,203.50M361.50,203.50L365.50,203.50M365.50,203.50L366.50,204.50M383.50,203.50L383.50,215.50M375.50,203.50L375.50,212.50M375.50,212.50L376.50,214.50M376.50,214.50L378.50,215.50M378.50,215.50L380.50,215.50M380.50,215.50L382.50,214.50M382.50,214.50L383.50,213.50M392.50,197.50L392.50,212.50M392.50,212.50L392.50,214.50M392.50,214.50L394.50,215.50M408.50,214.50L406.50,215.50M406.50,215.50L403.50,215.50M403.50,215.50L401.50,214.50M401.50,214.50L400.50,212.50M400.50,212.50L400.50,205.50M400.50,205.50L401.50,204.50M401.50,204.50L403.50,203.50M403.50,203.50L406.50,203.50M406.50,203.50L408.50,204.50M408.50,204.50L409.50,205.50M409.50,205.50L409.50,207.50M409.50,207.50L400.50,209.50M416.50,214.50L418.50,215.50M418.50,215.50L421.50,215.50M421.50,215.50L423.50,214.50M423.50,214.50L424.50,212.50M424.50,212.50L424.50,211.50M424.50,211.50L423.50,210.50M423.50,210.50L421.50,209.50M421.50,209.50L418.50,209.50M418.50,209.50L417.50,208.50M417.50,208.50L416.50,206.50M416.50,206.50L416.50,205.50M416.50,205.50L417.50,204.50M417.50,204.50L418.50,203.50M418.50,203.50L421.50,203.50M421.50,203.50L423.50,204.50" stroke="#0000c2" stroke-width="3.00"/><path d="M68.50,189.50L86.50,189.50M77.50,198.50L77.50,180.50M94.50,174.50L108.50,174.50M108.50,174.50L100.50,183.50M100.50,183.50L103.50,183.50M103.50,183.50L106.50,185.50M106.50,185.50L107.50,186.50M107.50,186.50L108.50,188.50M108.50,188.50L108.50,194.50M108.50,194.50L107.50,196.50M107.50,196.50L106.50,197.50M106.50,197.50L103.50,198.50M103.50,198.50L97.50,198.50M97.50,198.50L95.50,197.50M95.50,197.50L94.50,196.50M115.50,174.50L122.50,198.50M122.50,198.50L130.50,174.50M136.50,174.50L150.50,174.50M150.50,174.50L142.50,183.50M142.50,183.50L145.50,183.50M145.50,183.50L148.50,185.50M148.50,185.50L149.50,186.50M149.50,186.50L150.50,188.50M150.50,188.50L150.50,194.50M150.50,194.50L149.50,196.50M149.50,196.50L148.50,197.50M148.50,197.50L145.50,198.50M145.50,198.50L139.50,198.50M139.50,198.50L137.50,197.50M137.50,197.50L136.50,196.50" stroke="#008484" stroke-width="3.00"/><path d="M509.50,189.50L527.50,189.50M518.50,198.50L518.50,180.50M535.50,174.50L549.50,174.50M549.50,174.50L541.50,183.50M541.50,183.50L545.50,183.50M545.50,183.50L547.50,185.50M547.50,185.50L548.50,186.50M548.50,186.50L549.50,188.50M549.50,188.50L549.50,194.50M549.50,194.50L548.50,196.50M548.50,196.50L547.50,197.50M547.50,197.50L545.50,198.50M545.50,198.50L538.50,198.50M538.50,198.50L536.50,197.50M536.50,197.50L535.50,196.50M556.50,174.50L563.50,198.50M563.50,198.50L571.50,174.50M577.50,174.50L591.50,174.50M591.50,174.50L583.50,183.50M583.50,183.50L587.50,183.50M587.50,183.50L589.50,185.50M589.50,185.50L590.50,186.50M590.50,186.50L591.50,188.50M591.50,188.50L591.50,194.50M591.50,194.50L590.50,196.50M590.50,196.50L589.50,197.50M589.50,197.50L587.50,198.50M587.50,198.50L580.50,198.50M580.50,198.50L578.50,197.50M578.50,197.50L577.50,196.50" stroke="#008484" stroke-width="3.00"/><path d="M291.50,252.50L291.50,269.50M291.50,269.50L290.50,273.50M290.50,273.50L288.50,275.50M288.50,275.50L285.50,276.50M285.50,276.50L283.50,276.50M302.50,276.50L302.50,252.50M302.50,252.50L311.50,252.50M311.50,252.50L314.50,254.50M314.50,254.50L315.50,255.50M315.50,255.50L316.50,257.50M316.50,257.50L316.50,260.50M316.50,260.50L315.50,263.50M315.50,263.50L314.50,264.50M314.50,264.50L311.50,265.50M311.50,265.50L302.50,265.50M338.50,276.50L325.50,276.50M331.50,276.50L331.50,252.50M331.50,252.50L329.50,256.50M329.50,256.50L327.50,258.50M327.50,258.50L325.50,259.50" stroke="#008484" stroke-width="3.00"/><path d="M126.50,317.50L129.50,318.50M129.50,318.50L135.50,318.50M135.50,318.50L137.50,317.50M137.50,317.50L138.50,316.50M138.50,316.50L139.50,314.50M139.50,314.50L139.50,311.50M139.50,311.50L138.50,309.50M138.50,309.50L137.50,308.50M137.50,308.50L135.50,307.50M135.50,307.50L130.50,306.50M130.50,306.50L128.50,305.50M128.50,305.50L127.50,304.50M127.50,304.50L126.50,301.50M126.50,301.50L126.50,299.50M126.50,299.50L127.50,297.50M127.50,297.50L128.50,296.50M128.50,296.50L130.50,295.50M130.50,295.50L136.50,295.50M136.50,295.50L139.50,296.50M152.50,318.50L150.50,317.50M150.50,317.50L149.50,316.50M149.50,316.50L148.50,314.50M148.50,314.50L148.50,307.50M148.50,307.50L149.50,305.50M149.50,305.50L150.50,304.50M150.50,304.50L152.50,302.50M152.50,302.50L156.50,302.50M156.50,302.50L158.50,304.50M158.50,304.50L159.50,305.50M159.50,305.50L160.50,307.50M160.50,307.50L160.50,314.50M160.50,314.50L159.50,316.50M159.50,316.50L158.50,317.50M158.50,317.50L156.50,318.50M156.50,318.50L152.50,318.50M170.50,295.50L170.50,315.50M170.50,315.50L171.50,317.50M171.50,317.50L173.50,318.50M192.50,318.50L192.50,295.50M192.50,317.50L190.50,318.50M190.50,318.50L185.50,318.50M185.50,318.50L183.50,317.50M183.50,317.50L182.50,316.50M182.50,316.50L181.50,314.50M181.50,314.50L181.50,307.50M181.50,307.50L182.50,305.50M182.50,305.50L183.50,304.50M183.50,304.50L185.50,302.50M185.50,302.50L190.50,302.50M190.50,302.50L192.50,304.50M212.50,317.50L210.50,318.50M210.50,318.50L205.50,318.50M205.50,318.50L203.50,317.50M203.50,317.50L202.50,315.50M202.50,315.50L202.50,306.50M202.50,306.50L203.50,304.50M203.50,304.50L205.50,302.50M205.50,302.50L210.50,302.50M210.50,302.50L212.50,304.50M212.50,304.50L213.50,306.50M213.50,306.50L213.50,308.50M213.50,308.50L202.50,310.50M223.50,318.50L223.50,302.50M223.50,307.50L224.50,305.50M224.50,305.50L225.50,304.50M225.50,304.50L227.50,302.50M227.50,302.50L230.50,302.50M244.50,295.50L244.50,311.50M244.50,311.50L243.50,315.50M243.50,315.50L241.50,317.50M241.50,317.50L237.50,318.50M237.50,318.50L235.50,318.50M265.50,302.50L265.50,318.50M255.50,302.50L255.50,315.50M255.50,315.50L256.50,317.50M256.50,317.50L258.50,318.50M258.50,318.50L262.50,318.50M262.50,318.50L264.50,317.50M264.50,317.50L265.50,316.50M276.50,318.50L276.50,302.50M276.50,305.50L277.50,304.50M277.50,304.50L279.50,302.50M279.50,302.50L283.50,302.50M283.50,302.50L285.50,304.50M285.50,304.50L286.50,306.50M286.50,306.50L286.50,318.50M286.50,306.50L287.50,304.50M287.50,304.50L289.50,302.50M289.50,302.50L293.50,302.50M293.50,302.50L295.50,304.50M295.50,304.50L296.50,306.50M296.50,306.50L296.50,318.50M307.50,302.50L307.50,326.50M307.50,304.50L309.50,302.50M309.50,302.50L314.50,302.50M314.50,302.50L316.50,304.50M316.50,304.50L317.50,305.50M317.50,305.50L318.50,307.50M318.50,307.50L318.50,314.50M318.50,314.50L317.50,316.50M317.50,316.50L316.50,317.50M316.50,317.50L314.50,318.50M314.50,318.50L309.50,318.50M309.50,318.50L307.50,317.50M337.50,317.50L335.50,318.50M335.50,318.50L330.50,318.50M330.50,318.50L328.50,317.50M328.50,317.50L327.50,315.50M327.50,315.50L327.50,306.50M327.50,306.50L328.50,304.50M328.50,304.50L330.50,302.50M330.50,302.50L335.50,302.50M335.50,302.50L337.50,304.50M337.50,304.50L338.50,306.50M338.50,306.50L338.50,308.50M338.50,308.50L327.50,310.50M348.50,318.50L348.50,302.50M348.50,307.50L349.50,305.50M349.50,305.50L350.50,304.50M350.50,304.50L352.50,302.50M352.50,302.50L354.50,302.50M379.50,297.50L380.50,296.50M380.50,296.50L382.50,295.50M382.50,295.50L388.50,295.50M388.50,295.50L390.50,296.50M390.50,296.50L391.50,297.50M391.50,297.50L392.50,299.50M392.50,299.50L392.50,301.50M392.50,301.50L391.50,305.50M391.50,305.50L379.50,318.50M379.50,318.50L392.50,318.50M424.50,295.50L428.50,295.50M428.50,295.50L431.50,296.50M431.50,296.50L433.50,298.50M433.50,298.50L434.50,302.50M434.50,302.50L434.50,310.50M434.50,310.50L433.50,315.50M433.50,315.50L431.50,317.50M431.50,317.50L428.50,318.50M428.50,318.50L424.50,318.50M424.50,318.50L422.50,317.50M422.50,317.50L420.50,315.50M420.50,315.50L418.50,310.50M418.50,310.50L418.50,302.50M418.50,302.50L420.50,298.50M420.50,298.50L422.50,296.50M422.50,296.50L424.50,295.50M444.50,302.50L444.50,326.50M444.50,304.50L446.50,302.50M446.50,302.50L451.50,302.50M451.50,302.50L453.50,304.50M453.50,304.50L454.50,305.50M454.50,305.50L455.50,307.50M455.50,307.50L455.50,314.50M455.50,314.50L454.50,316.50M454.50,316.50L453.50,317.50M453.50,317.50L451.50,318.50M451.50,318.50L446.50,318.50M446.50,318.50L444.50,317.50M474.50,317.50L472.50,318.50M472.50,318.50L467.50,318.50M467.50,318.50L465.50,317.50M465.50,317.50L464.50,315.50M464.50,315.50L464.50,306.50M464.50,306.50L465.50,304.50M465.50,304.50L467.50,302.50M467.50,302.50L472.50,302.50M472.50,302.50L474.50,304.50M474.50,304.50L475.50,306.50M475.50,306.50L475.50,308.50M475.50,308.50L464.50,310.50M485.50,302.50L485.50,318.50M485.50,305.50L486.50,304.50M486.50,304.50L488.50,302.50M488.50,302.50L491.50,302.50M491.50,302.50L494.50,304.50M494.50,304.50L495.50,306.50M495.50,306.50L495.50,318.50" stroke="#008484" stroke-width="3.00"/><path d="M357.50,320.50L374.50,320.50M396.50,320.50L414.50,320.50" stroke="#008484" stroke-width="3.00" stroke-linecap="square"/><path d="M709.50,405.50L709.50,421.50M709.50,421.50L708.50,425.50M708.50,425.50L706.50,427.50M706.50,427.50L702.50,428.50M702.50,428.50L700.50,428.50M732.50,428.50L719.50,428.50M725.50,428.50L725.50,405.50M725.50,405.50L723.50,408.50M723.50,408.50L721.50,410.50M721.50,410.50L719.50,411.50" stroke="#008484" stroke-width="3.00"/><path d="M715.50,469.50L714.50,470.50M714.50,470.50L711.50,471.50M711.50,471.50L709.50,471.50M709.50,471.50L705.50,470.50M705.50,470.50L703.50,468.50M703.50,468.50L702.50,466.50M702.50,466.50L701.50,461.50M701.50,461.50L701.50,458.50M701.50,458.50L702.50,453.50M702.50,453.50L703.50,451.50M703.50,451.50L705.50,449.50M705.50,449.50L709.50,448.50M709.50,448.50L711.50,448.50M711.50,448.50L714.50,449.50M714.50,449.50L715.50,450.50M729.50,471.50L726.50,470.50M726.50,470.50L725.50,469.50M725.50,469.50L724.50,467.50M724.50,467.50L724.50,460.50M724.50,460.50L725.50,458.50M725.50,458.50L726.50,457.50M726.50,457.50L729.50,456.50M729.50,456.50L732.50,456.50M732.50,456.50L734.50,457.50M734.50,457.50L735.50,458.50M735.50,458.50L736.50,460.50M736.50,460.50L736.50,467.50M736.50,467.50L735.50,469.50M735.50,469.50L734.50,470.50M734.50,470.50L732.50,471.50M732.50,471.50L729.50,471.50M746.50,456.50L746.50,471.50M746.50,458.50L747.50,457.50M747.50,457.50L750.50,456.50M750.50,456.50L753.50,456.50M753.50,456.50L755.50,457.50M755.50,457.50L756.50,459.50M756.50,459.50L756.50,471.50M767.50,456.50L767.50,471.50M767.50,458.50L769.50,457.50M769.50,457.50L771.50,456.50M771.50,456.50L774.50,456.50M774.50,456.50L776.50,457.50M776.50,457.50L777.50,459.50M777.50,459.50L777.50,471.50M811.50,448.50L813.50,448.50M813.50,448.50L815.50,449.50M815.50,449.50L816.50,450.50M816.50,450.50L817.50,452.50M817.50,452.50L818.50,457.50M818.50,457.50L818.50,462.50M818.50,462.50L817.50,467.50M817.50,467.50L816.50,469.50M816.50,469.50L815.50,470.50M815.50,470.50L813.50,471.50M813.50,471.50L811.50,471.50M811.50,471.50L808.50,470.50M808.50,470.50L807.50,469.50M807.50,469.50L806.50,467.50M806.50,467.50L805.50,462.50M805.50,462.50L805.50,457.50M805.50,457.50L806.50,452.50M806.50,452.50L807.50,450.50M807.50,450.50L808.50,449.50M808.50,449.50L811.50,448.50M841.50,471.50L827.50,471.50M834.50,471.50L834.50,448.50M834.50,448.50L832.50,451.50M832.50,451.50L829.50,453.50M829.50,453.50L827.50,454.50M847.50,471.50L859.50,456.50M847.50,456.50L859.50,471.50M873.50,448.50L875.50,448.50M875.50,448.50L877.50,449.50M877.50,449.50L878.50,450.50M878.50,450.50L879.50,452.50M879.50,452.50L880.50,457.50M880.50,457.50L880.50,462.50M880.50,462.50L879.50,467.50M879.50,467.50L878.50,469.50M878.50,469.50L877.50,470.50M877.50,470.50L875.50,471.50M875.50,471.50L873.50,471.50M873.50,471.50L870.50,470.50M870.50,470.50L869.50,469.50M869.50,469.50L868.50,467.50M868.50,467.50L867.50,462.50M867.50,462.50L867.50,457.50M867.50,457.50L868.50,452.50M868.50,452.50L869.50,450.50M869.50,450.50L870.50,449.50M870.50,449.50L873.50,448.50M900.50,448.50L896.50,448.50M896.50,448.50L894.50,449.50M894.50,449.50L890.50,452.50M890.50,452.50L889.50,454.50M889.50,454.50L889.50,467.50M889.50,467.50L890.50,469.50M890.50,469.50L892.50,470.50M892.50,470.50L894.50,471.50M894.50,471.50L898.50,471.50M898.50,471.50L900.50,470.50M900.50,470.50L901.50,469.50M901.50,469.50L903.50,467.50M903.50,467.50L903.50,461.50M903.50,461.50L901.50,459.50M901.50,459.50L900.50,458.50M900.50,458.50L898.50,457.50M898.50,457.50L894.50,457.50M894.50,457.50L892.50,458.50M892.50,458.50L890.50,459.50M890.50,459.50L889.50,461.50M938.50,459.50L930.50,459.50M930.50,471.50L930.50,448.50M930.50,448.50L941.50,448.50M959.50,470.50L957.50,471.50M957.50,471.50L952.50,471.50M952.50,471.50L950.50,470.50M950.50,470.50L949.50,468.50M949.50,468.50L949.50,459.50M949.50,459.50L950.50,457.50M950.50,457.50L952.50,456.50M952.50,456.50L957.50,456.50M957.50,456.50L959.50,457.50M959.50,457.50L960.50,459.50M960.50,459.50L960.50,461.50M960.50,461.50L949.50,463.50M970.50,471.50L970.50,456.50M970.50,458.50L971.50,457.50M971.50,457.50L973.50,456.50M973.50,456.50L977.50,456.50M977.50,456.50L979.50,457.50M979.50,457.50L980.50,459.50M980.50,459.50L980.50,471.50M980.50,459.50L981.50,457.50M981.50,457.50L983.50,456.50M983.50,456.50L987.50,456.50M987.50,456.50L989.50,457.50M989.50,457.50L990.50,459.50M990.50,459.50L990.50,471.50M1011.50,471.50L1011.50,459.50M1011.50,459.50L1010.50,457.50M1010.50,457.50L1008.50,456.50M1008.50,456.50L1003.50,456.50M1003.50,456.50L1001.50,457.50M1011.50,470.50L1009.50,471.50M1009.50,471.50L1003.50,471.50M1003.50,471.50L1001.50,470.50M1001.50,470.50L1000.50,468.50M1000.50,468.50L1000.50,466.50M1000.50,466.50L1001.50,463.50M1001.50,463.50L1003.50,462.50M1003.50,462.50L1009.50,462.50M1009.50,462.50L1011.50,461.50M1022.50,448.50L1022.50,468.50M1022.50,468.50L1023.50,470.50M1023.50,470.50L1026.50,471.50M1043.50,470.50L1041.50,471.50M1041.50,471.50L1037.50,471.50M1037.50,471.50L1034.50,470.50M1034.50,470.50L1033.50,468.50M1033.50,468.50L1033.50,459.50M1033.50,459.50L1034.50,457.50M1034.50,457.50L1037.50,456.50M1037.50,456.50L1041.50,456.50M1041.50,456.50L1043.50,457.50M1043.50,457.50L1044.50,459.50M1044.50,459.50L1044.50,461.50M1044.50,461.50L1033.50,463.50" stroke="#008484" stroke-width="3.00"/><path d="M783.50,473.50L801.50,473.50M907.50,473.50L925.50,473.50" stroke="#008484" stroke-width="3.00" stroke-linecap="square"/><path d="M226.50,522.50L224.50,521.50M224.50,521.50L220.50,521.50M220.50,521.50L217.50,522.50M217.50,522.50L215.50,524.50M215.50,524.50L214.50,526.50M214.50,526.50L213.50,531.50M213.50,531.50L213.50,534.50M213.50,534.50L214.50,539.50M214.50,539.50L215.50,541.50M215.50,541.50L217.50,543.50M217.50,543.50L220.50,544.50M220.50,544.50L222.50,544.50M222.50,544.50L226.50,543.50M226.50,543.50L227.50,542.50M227.50,542.50L227.50,534.50M227.50,534.50L222.50,534.50M237.50,544.50L237.50,521.50M237.50,521.50L250.50,544.50M250.50,544.50L250.50,521.50M261.50,544.50L261.50,521.50M261.50,521.50L267.50,521.50M267.50,521.50L270.50,522.50M270.50,522.50L272.50,524.50M272.50,524.50L273.50,526.50M273.50,526.50L274.50,531.50M274.50,531.50L274.50,534.50M274.50,534.50L273.50,539.50M273.50,539.50L272.50,541.50M272.50,541.50L270.50,543.50M270.50,543.50L267.50,544.50M267.50,544.50L261.50,544.50" stroke="#008484" stroke-width="3.00"/><path d="M341.50,446.50L341.50,423.50M351.50,425.50L352.50,424.50M352.50,424.50L354.50,423.50M354.50,423.50L360.50,423.50M360.50,423.50L362.50,424.50M362.50,424.50L363.50,425.50M363.50,425.50L364.50,427.50M364.50,427.50L364.50,430.50M364.50,430.50L363.50,433.50M363.50,433.50L351.50,446.50M351.50,446.50L364.50,446.50M387.50,444.50L386.50,445.50M386.50,445.50L383.50,446.50M383.50,446.50L381.50,446.50M381.50,446.50L377.50,445.50M377.50,445.50L375.50,443.50M375.50,443.50L374.50,441.50M374.50,441.50L373.50,436.50M373.50,436.50L373.50,433.50M373.50,433.50L374.50,428.50M374.50,428.50L375.50,426.50M375.50,426.50L377.50,424.50M377.50,424.50L381.50,423.50M381.50,423.50L383.50,423.50M383.50,423.50L386.50,424.50M386.50,424.50L387.50,425.50M414.50,445.50L417.50,446.50M417.50,446.50L422.50,446.50M422.50,446.50L425.50,445.50M425.50,445.50L426.50,444.50M426.50,444.50L427.50,442.50M427.50,442.50L427.50,440.50M427.50,440.50L426.50,437.50M426.50,437.50L425.50,436.50M425.50,436.50L422.50,435.50M422.50,435.50L418.50,434.50M418.50,434.50L416.50,433.50M416.50,433.50L415.50,432.50M415.50,432.50L414.50,430.50M414.50,430.50L414.50,427.50M414.50,427.50L415.50,425.50M415.50,425.50L416.50,424.50M416.50,424.50L418.50,423.50M418.50,423.50L424.50,423.50M424.50,423.50L427.50,424.50M450.50,444.50L449.50,445.50M449.50,445.50L446.50,446.50M446.50,446.50L443.50,446.50M443.50,446.50L440.50,445.50M440.50,445.50L438.50,443.50M438.50,443.50L437.50,441.50M437.50,441.50L436.50,436.50M436.50,436.50L436.50,433.50M436.50,433.50L437.50,428.50M437.50,428.50L438.50,426.50M438.50,426.50L440.50,424.50M440.50,424.50L443.50,423.50M443.50,423.50L446.50,423.50M446.50,423.50L449.50,424.50M449.50,424.50L450.50,425.50M471.50,446.50L460.50,446.50M460.50,446.50L460.50,423.50" stroke="#000000" stroke-width="3.00"/><path d="M392.50,449.50L409.50,449.50" stroke="#000000" stroke-width="3.00" stroke-linecap="square"/><path d="M341.50,493.50L341.50,469.50M351.50,471.50L352.50,470.50M352.50,470.50L354.50,469.50M354.50,469.50L360.50,469.50M360.50,469.50L362.50,470.50M362.50,470.50L363.50,471.50M363.50,471.50L364.50,474.50M364.50,474.50L364.50,476.50M364.50,476.50L363.50,479.50M363.50,479.50L351.50,493.50M351.50,493.50L364.50,493.50M387.50,490.50L386.50,492.50M386.50,492.50L383.50,493.50M383.50,493.50L381.50,493.50M381.50,493.50L377.50,492.50M377.50,492.50L375.50,489.50M375.50,489.50L374.50,487.50M374.50,487.50L373.50,483.50M373.50,483.50L373.50,479.50M373.50,479.50L374.50,475.50M374.50,475.50L375.50,473.50M375.50,473.50L377.50,470.50M377.50,470.50L381.50,469.50M381.50,469.50L383.50,469.50M383.50,469.50L386.50,470.50M386.50,470.50L387.50,471.50M414.50,492.50L417.50,493.50M417.50,493.50L422.50,493.50M422.50,493.50L425.50,492.50M425.50,492.50L426.50,490.50M426.50,490.50L427.50,488.50M427.50,488.50L427.50,486.50M427.50,486.50L426.50,484.50M426.50,484.50L425.50,483.50M425.50,483.50L422.50,482.50M422.50,482.50L418.50,480.50M418.50,480.50L416.50,479.50M416.50,479.50L415.50,478.50M415.50,478.50L414.50,476.50M414.50,476.50L414.50,474.50M414.50,474.50L415.50,471.50M415.50,471.50L416.50,470.50M416.50,470.50L418.50,469.50M418.50,469.50L424.50,469.50M424.50,469.50L427.50,470.50M437.50,493.50L437.50,469.50M437.50,469.50L442.50,469.50M442.50,469.50L446.50,470.50M446.50,470.50L448.50,473.50M448.50,473.50L449.50,475.50M449.50,475.50L450.50,479.50M450.50,479.50L450.50,483.50M450.50,483.50L449.50,487.50M449.50,487.50L448.50,489.50M448.50,489.50L446.50,492.50M446.50,492.50L442.50,493.50M442.50,493.50L437.50,493.50M460.50,486.50L469.50,486.50M457.50,493.50L464.50,469.50M464.50,469.50L472.50,493.50" stroke="#000000" stroke-width="3.00"/><path d="M392.50,495.50L409.50,495.50" stroke="#000000" stroke-width="3.00" stroke-linecap="square"/><path d="M341.50,539.50L341.50,516.50M341.50,516.50L348.50,532.50M348.50,532.50L356.50,516.50M356.50,516.50L356.50,539.50M367.50,539.50L367.50,516.50M367.50,516.50L376.50,516.50M376.50,516.50L378.50,517.50M378.50,517.50L379.50,518.50M379.50,518.50L381.50,520.50M381.50,520.50L381.50,523.50M381.50,523.50L379.50,526.50M379.50,526.50L378.50,527.50M378.50,527.50L376.50,528.50M376.50,528.50L367.50,528.50M390.50,516.50L390.50,535.50M390.50,535.50L392.50,537.50M392.50,537.50L393.50,538.50M393.50,538.50L395.50,539.50M395.50,539.50L399.50,539.50M399.50,539.50L401.50,538.50M401.50,538.50L403.50,537.50M403.50,537.50L404.50,535.50M404.50,535.50L404.50,516.50M432.50,539.50L432.50,516.50M443.50,539.50L443.50,516.50M443.50,516.50L457.50,539.50M457.50,539.50L457.50,516.50M471.50,516.50L471.50,539.50M464.50,516.50L478.50,516.50" stroke="#000000" stroke-width="3.00"/><path d="M409.50,541.50L427.50,541.50" stroke="#000000" stroke-width="3.00" stroke-linecap="square"/></g><g fill="none" stroke-linejoin="miter"><path d="M102.50,267.10L102.50,359.90L241.90,359.90" stroke="#008400" stroke-width="3.00" stroke-linecap="butt"/><path d="M543.50,267.10L543.50,313.50L591.00,313.50" stroke="#008400" stroke-width="3.00" stroke-linecap="butt"/><path d="M381.10,359.90L591.00,359.90" stroke="#008400" stroke-width="3.00" stroke-linecap="butt"/><path d="M591.00,406.30L241.50,406.30L241.50,452.70" stroke="#008400" stroke-width="3.00" stroke-linecap="butt"/><path d="M333.00,452.70L591.00,452.70" stroke="#008400" stroke-width="3.00" stroke-linecap="butt"/><path d="M333.00,499.10L591.00,499.10" stroke="#008400" stroke-width="3.00" stroke-linecap="butt"/><path d="M333.00,545.50L591.00,545.50" stroke="#008400" stroke-width="3.00" stroke-linecap="butt"/></g><g fill="none" stroke-linejoin="round"><path d="M102.50,268.50L102.50,220.50" stroke="#840000" stroke-width="3.00" stroke-linecap="round"/><path d="M88.50,243.50L102.50,220.50M102.50,220.50L116.50,243.50" stroke="#840000" stroke-width="3.00" stroke-linecap="round"/><path d="M543.50,268.50L543.50,220.50" stroke="#840000" stroke-width="3.00" stroke-linecap="round"/><path d="M529.50,243.50L543.50,220.50M543.50,220.50L557.50,243.50" stroke="#840000" stroke-width="3.00" stroke-linecap="round"/><path d="M241.50,451.50L241.50,476.50" stroke="#840000" stroke-width="3.00" stroke-linecap="round"/><path d="M218.50,476.50L264.50,476.50M264.50,476.50L241.50,499.50M241.50,499.50L218.50,476.50" stroke="#840000" stroke-width="3.00" stroke-linecap="round"/><path d="M241.90,359.90L288.30,359.90" stroke="#840000" stroke-width="3.00" stroke-linecap="round"/><path d="M334.70,359.90L381.10,359.90" stroke="#840000" stroke-width="3.00" stroke-linecap="round"/><path d="M306.9,341.34 A18.56,18.56 0 0 0 306.9,378.46 Z" fill="#840000" stroke="#840000" stroke-width="2.8" stroke-linejoin="miter"/><path d="M315.8,341.34 A18.56,18.56 0 0 1 315.8,378.46 Z" fill="#840000" stroke="#840000" stroke-width="2.8" stroke-linejoin="miter"/><path d="M591.00,313.50L673.50,313.50" stroke="#840000" stroke-width="3.00" stroke-linecap="butt"/><path d="M682.50,304.50L679.50,304.50M679.50,304.50L677.50,305.50M677.50,305.50L675.50,308.50M675.50,308.50L673.50,310.50M673.50,310.50L673.50,313.50M673.50,313.50L673.50,316.50M673.50,316.50L675.50,318.50M675.50,318.50L677.50,321.50M677.50,321.50L679.50,322.50M679.50,322.50L682.50,322.50" stroke="#840000" stroke-width="3.00" stroke-linecap="round"/><path d="M591.00,359.90L673.50,359.90" stroke="#840000" stroke-width="3.00" stroke-linecap="butt"/><path d="M682.50,350.50L679.50,350.50M679.50,350.50L677.50,351.50M677.50,351.50L675.50,354.50M675.50,354.50L673.50,356.50M673.50,356.50L673.50,359.50M673.50,359.50L673.50,362.50M673.50,362.50L675.50,364.50M675.50,364.50L677.50,367.50M677.50,367.50L679.50,368.50M679.50,368.50L682.50,368.50" stroke="#840000" stroke-width="3.00" stroke-linecap="round"/><path d="M591.00,406.30L673.50,406.30" stroke="#840000" stroke-width="3.00" stroke-linecap="butt"/><path d="M682.50,397.50L679.50,397.50M679.50,397.50L677.50,398.50M677.50,398.50L675.50,401.50M675.50,401.50L673.50,403.50M673.50,403.50L673.50,406.50M673.50,406.50L673.50,409.50M673.50,409.50L675.50,411.50M675.50,411.50L677.50,414.50M677.50,414.50L679.50,415.50M679.50,415.50L682.50,415.50" stroke="#840000" stroke-width="3.00" stroke-linecap="round"/><path d="M591.00,452.70L673.50,452.70" stroke="#840000" stroke-width="3.00" stroke-linecap="butt"/><path d="M682.50,443.50L679.50,443.50M679.50,443.50L677.50,444.50M677.50,444.50L675.50,447.50M675.50,447.50L673.50,449.50M673.50,449.50L673.50,452.50M673.50,452.50L673.50,455.50M673.50,455.50L675.50,457.50M675.50,457.50L677.50,460.50M677.50,460.50L679.50,461.50M679.50,461.50L682.50,461.50" stroke="#840000" stroke-width="3.00" stroke-linecap="round"/><path d="M591.00,499.10L673.50,499.10" stroke="#840000" stroke-width="3.00" stroke-linecap="butt"/><path d="M682.50,490.50L679.50,490.50M679.50,490.50L677.50,491.50M677.50,491.50L675.50,494.50M675.50,494.50L673.50,496.50M673.50,496.50L673.50,499.50M673.50,499.50L673.50,502.50M673.50,502.50L675.50,504.50M675.50,504.50L677.50,507.50M677.50,507.50L679.50,508.50M679.50,508.50L682.50,508.50" stroke="#840000" stroke-width="3.00" stroke-linecap="round"/><path d="M591.00,545.50L673.50,545.50" stroke="#840000" stroke-width="3.00" stroke-linecap="butt"/><path d="M682.50,536.50L679.50,536.50M679.50,536.50L677.50,537.50M677.50,537.50L675.50,540.50M675.50,540.50L673.50,542.50M673.50,542.50L673.50,545.50M673.50,545.50L673.50,548.50M673.50,548.50L675.50,550.50M675.50,550.50L677.50,553.50M677.50,553.50L679.50,554.50M679.50,554.50L682.50,554.50" stroke="#840000" stroke-width="3.00" stroke-linecap="round"/></g><g fill="none" stroke-linecap="round" stroke-linejoin="round" shape-rendering="crispEdges"><path d="M631.50,307.50L618.50,307.50M624.50,307.50L624.50,284.50M624.50,284.50L622.50,287.50M622.50,287.50L620.50,289.50M620.50,289.50L618.50,290.50" stroke="#840000" stroke-width="3.00"/><path d="M618.50,332.50L619.50,331.50M619.50,331.50L621.50,330.50M621.50,330.50L627.50,330.50M627.50,330.50L629.50,331.50M629.50,331.50L630.50,332.50M630.50,332.50L631.50,335.50M631.50,335.50L631.50,337.50M631.50,337.50L630.50,340.50M630.50,340.50L618.50,353.50M618.50,353.50L631.50,353.50" stroke="#840000" stroke-width="3.00"/><path d="M617.50,377.50L631.50,377.50M631.50,377.50L623.50,385.50M623.50,385.50L627.50,385.50M627.50,385.50L629.50,387.50M629.50,387.50L630.50,388.50M630.50,388.50L631.50,390.50M631.50,390.50L631.50,395.50M631.50,395.50L630.50,398.50M630.50,398.50L629.50,399.50M629.50,399.50L627.50,400.50M627.50,400.50L620.50,400.50M620.50,400.50L618.50,399.50M618.50,399.50L617.50,398.50" stroke="#840000" stroke-width="3.00"/><path d="M629.50,431.50L629.50,446.50M623.50,422.50L618.50,438.50M618.50,438.50L632.50,438.50" stroke="#840000" stroke-width="3.00"/><path d="M630.50,469.50L619.50,469.50M619.50,469.50L618.50,480.50M618.50,480.50L619.50,479.50M619.50,479.50L621.50,478.50M621.50,478.50L627.50,478.50M627.50,478.50L629.50,479.50M629.50,479.50L630.50,480.50M630.50,480.50L631.50,483.50M631.50,483.50L631.50,488.50M631.50,488.50L630.50,490.50M630.50,490.50L629.50,491.50M629.50,491.50L627.50,493.50M627.50,493.50L621.50,493.50M621.50,493.50L619.50,491.50M619.50,491.50L618.50,490.50" stroke="#840000" stroke-width="3.00"/><path d="M629.50,516.50L624.50,516.50M624.50,516.50L622.50,517.50M622.50,517.50L619.50,520.50M619.50,520.50L618.50,522.50M618.50,522.50L618.50,535.50M618.50,535.50L619.50,537.50M619.50,537.50L620.50,538.50M620.50,538.50L622.50,539.50M622.50,539.50L627.50,539.50M627.50,539.50L629.50,538.50M629.50,538.50L630.50,537.50M630.50,537.50L631.50,535.50M631.50,535.50L631.50,529.50M631.50,529.50L630.50,527.50M630.50,527.50L629.50,526.50M629.50,526.50L627.50,525.50M627.50,525.50L622.50,525.50M622.50,525.50L620.50,526.50M620.50,526.50L619.50,527.50M619.50,527.50L618.50,529.50" stroke="#840000" stroke-width="3.00"/><path d="M271.50,386.50L257.50,386.50M264.50,386.50L264.50,362.50M264.50,362.50L262.50,366.50M262.50,366.50L260.50,368.50M260.50,368.50L257.50,369.50" stroke="#840000" stroke-width="3.00"/><path d="M351.50,365.50L352.50,364.50M352.50,364.50L354.50,362.50M354.50,362.50L360.50,362.50M360.50,362.50L362.50,364.50M362.50,364.50L363.50,365.50M363.50,365.50L364.50,367.50M364.50,367.50L364.50,369.50M364.50,369.50L363.50,373.50M363.50,373.50L351.50,386.50M351.50,386.50L364.50,386.50" stroke="#840000" stroke-width="3.00"/></g></svg>
</body></html>
